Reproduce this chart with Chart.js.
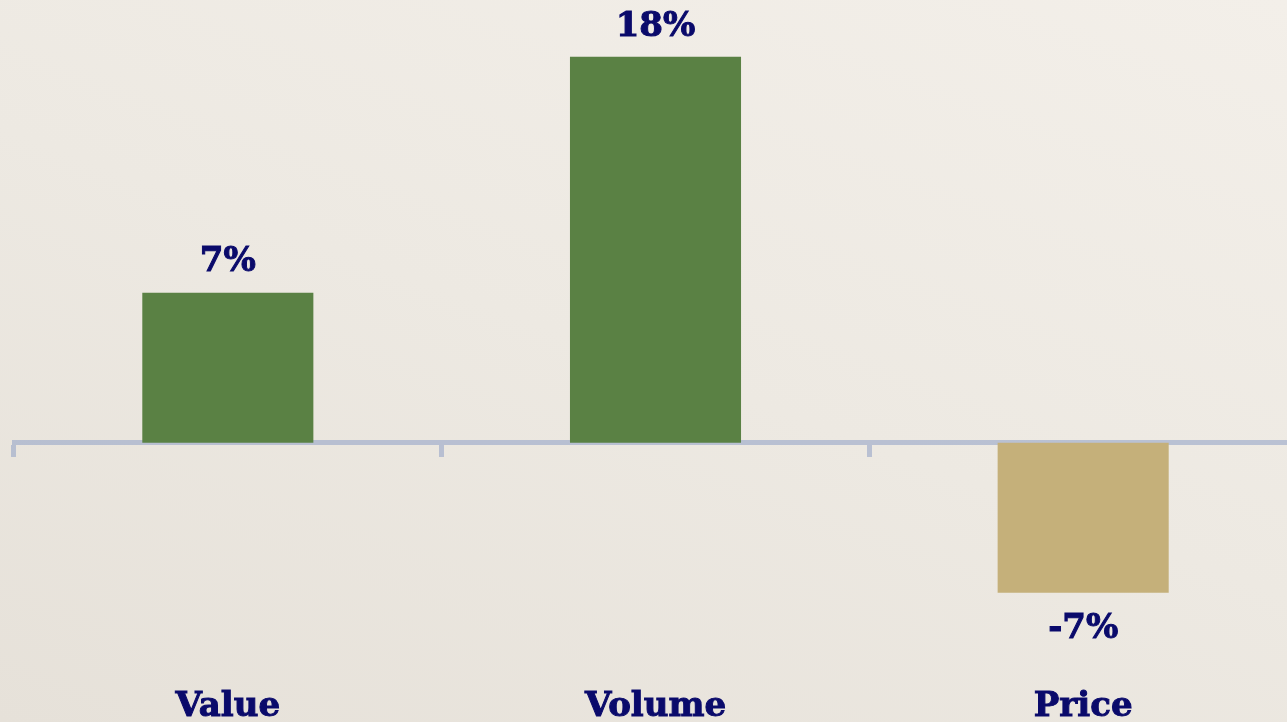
<!DOCTYPE html>
<html>
<head>
<meta charset="utf-8">
<script src="https://cdn.jsdelivr.net/npm/chart.js@4.4.1/dist/chart.umd.min.js"></script>
<style>
  html, body { margin: 0; padding: 0; overflow: hidden; }
  body {
    width: 1287px; height: 722px;
    background: linear-gradient(200deg, #f3efe9 0%, #ede9e2 50%, #e6e1d9 100%);
  }
  #wrap { position: absolute; left: 0; top: 0; width: 1297px; height: 722px; }
</style>
</head>
<body>
<div id="wrap"><canvas id="chart"></canvas></div>
<script>
const categories = ['Value', 'Volume', 'Price'];
const changePct = [7, 18, -7];
const barColors = ['#5a8144', '#5a8144', '#c5b07a'];

const navy = '#0a0a6b';
const axisBlue = 'rgba(150,165,200,0.6)';

// percentage labels above positive bars and below negative ones
const valueLabels = {
  id: 'valueLabels',
  afterDatasetsDraw(chart) {
    const ctx = chart.ctx;
    const meta = chart.getDatasetMeta(0);
    ctx.save();
    ctx.fillStyle = navy;
    ctx.strokeStyle = navy;
    ctx.lineWidth = 1;
    ctx.font = 'bold 34px "DejaVu Serif"';
    ctx.textAlign = 'center';
    ctx.textBaseline = 'middle';
    meta.data.forEach((bar, i) => {
      const v = changePct[i];
      const y = v >= 0 ? bar.y - 30 : bar.y + 36;
      ctx.fillText(v + '%', bar.x, y);
      ctx.strokeText(v + '%', bar.x, y);
    });
    ctx.restore();
  }
};

new Chart(document.getElementById('chart'), {
  type: 'bar',
  data: {
    labels: categories,
    datasets: [{
      data: changePct,
      backgroundColor: barColors,
      borderWidth: 0,
      barPercentage: 0.4,
      categoryPercentage: 1
    }]
  },
  options: {
    responsive: true,
    maintainAspectRatio: false,
    animation: false,
    layout: { padding: { top: 14, left: 14, right: 0, bottom: 0 } },
    plugins: { legend: { display: false }, tooltip: { enabled: false } },
    scales: {
      y: { display: false, min: -10, max: 20 },
      x: {
        position: { y: 0 },
        z: 1,
        afterFit: (scale) => { scale.height = 0; },
        ticks: { display: false },
        grid: {
          offset: true,
          drawOnChartArea: false,
          drawTicks: true,
          tickLength: 12,
          tickWidth: 5,
          tickColor: axisBlue
        },
        border: { display: true, color: axisBlue, width: 5 }
      },
      x2: {
        type: 'category',
        labels: categories,
        position: 'bottom',
        offset: true,
        afterFit: (scale) => { scale.height = 65; },
        grid: { display: false },
        border: { display: false },
        ticks: {
          color: navy,
          font: { family: 'DejaVu Serif', weight: 'bold', size: 34, lineHeight: 1 },
          textStrokeColor: navy,
          textStrokeWidth: 1,
          padding: 25,
          maxRotation: 0
        }
      }
    }
  },
  plugins: [valueLabels]
});
</script>
</body>
</html>
